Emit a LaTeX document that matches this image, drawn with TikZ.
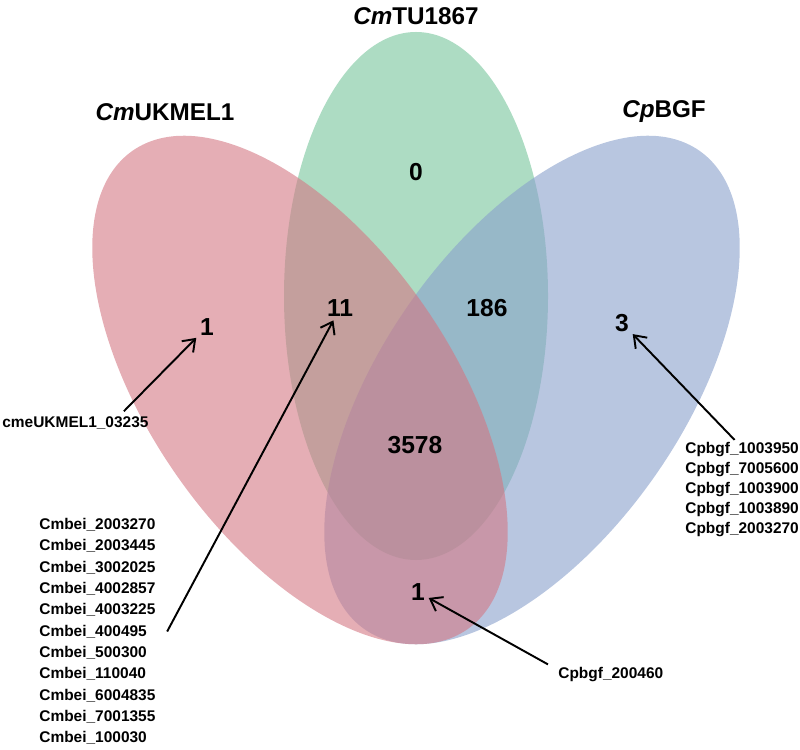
\documentclass[tikz,border=0pt]{standalone}
\usepackage{fontspec}
\setmainfont{Liberation Sans}
\usepackage{xcolor}
\definecolor{VennGreen}{RGB}{118,197,155}
\definecolor{VennBlue}{RGB}{137,160,203}
\definecolor{VennRed}{RGB}{212,120,132}
\usetikzlibrary{arrows.meta}

\tikzset{
  setfill/.style={fill=#1, fill opacity=0.6},
  settitle/.style={font=\fontsize{13.8}{16}\selectfont\bfseries},
  count/.style={font=\fontsize{14}{16}\selectfont\bfseries, inner sep=2pt},
  genetext/.style={font=\fontsize{8.8}{10}\selectfont\bfseries, inner sep=0pt, anchor=west},
  pointer/.style={-{Straight Barb[length=2.2mm,width=3.2mm]}, line width=1.1pt}
}

\begin{document}
\begin{tikzpicture}
    \useasboundingbox (0,0) rectangle (16,14.98);
    % Sets: green, then blue, then red on top
    \fill[setfill=VennGreen] (8.32,9.06) ellipse [x radius=2.64cm, y radius=5.28cm];
    \fill[setfill=VennBlue, rotate around={55:(10.64,7.18)}]
      (10.64,7.18) ellipse [x radius=5.84cm, y radius=3cm];
    \fill[setfill=VennRed, rotate around={-55:(6.0,7.18)}]
      (6.0,7.18) ellipse [x radius=5.84cm, y radius=3cm];
    % Set names
    \node[settitle] (tu) at (8.32,14.66) {\textit{Cm}TU1867};
    \node[settitle] (ukmel) at (3.3,12.74) {\textit{Cm}UKMEL1};
    \node[settitle] (bgf) at (13.28,12.74) {\textit{Cp}BGF};
    % Counts
    \foreach \nm/\x/\y/\val in {c0/8.32/11.54/0, c11/6.8/8.82/11, c186/9.74/8.82/186,
        cL1/4.14/8.44/1, c3/12.44/8.52/3, c3578/8.3/6.08/3578, cB1/8.36/3.14/1}
      \node[count] (\nm) at (\x,\y) {\val};
    % Gene labels
    \node[genetext] (ukmlab) at (0.04,6.52) {cmeUKMEL1\_03235};
    \foreach \gene [count=\k] in {2003270, 2003445, 3002025, 4002857, 4003225, 400495,
        500300, 110040, 6004835, 7001355, 100030}
      \node[genetext] (cmbei\k) at (0.78,{4.906-0.426*\k}) {Cmbei\_\gene};
    \foreach \gene [count=\k] in {1003950, 7005600, 1003900, 1003890, 2003270}
      \node[genetext] (cpbgf\k) at (13.7,{6.38-0.4*\k}) {Cpbgf\_\gene};
    \node[genetext] (cpblab) at (11.16,1.48) {Cpbgf\_200460};
    % Arrows
    \draw[pointer] ([xshift=-5mm,yshift=1mm]ukmlab.north east) -- (cL1);
    \draw[pointer] ([xshift=4mm]cmbei6.east) -- (c11);
    \draw[pointer] ([xshift=-1.5mm,yshift=0.5mm]cpbgf1.north) -- (c3);
    \draw[pointer] ([xshift=-2mm,yshift=0.6mm]cpblab.north west) -- (cB1);
\end{tikzpicture}
\end{document}
